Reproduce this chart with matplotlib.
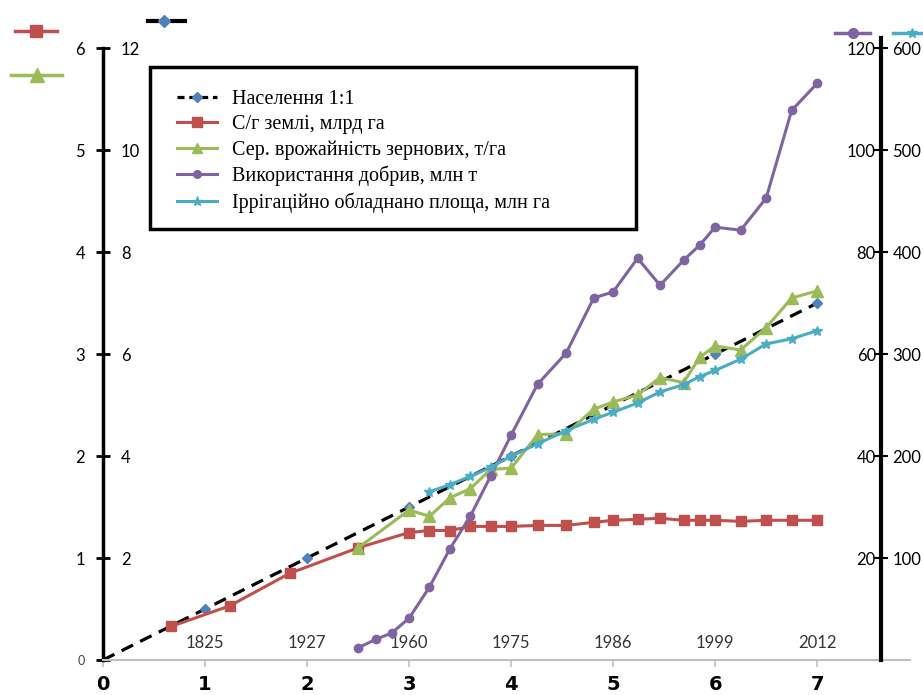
import matplotlib
matplotlib.use("Agg")
import matplotlib.pyplot as plt
from matplotlib.lines import Line2D
from matplotlib.patches import Rectangle

# --- data ---
# x axis = world population, billions (1:1 scale)
pop_x = [0, 1, 2, 3, 4, 5, 6, 7]
pop_y = [0, 1, 2, 3, 4, 5, 6, 7]
year_pos = [1, 2, 3, 4, 5, 6, 7]
year_lbl = ["1825", "1927", "1960", "1975", "1986", "1999", "2012"]

land_x = [0.67, 1.24, 1.83, 2.5, 3.0, 3.2, 3.4, 3.6, 3.8, 4.0, 4.26, 4.54,
          4.81, 5.0, 5.24, 5.46, 5.69, 5.85, 6.0, 6.25, 6.5, 6.75, 7.0]
land_y = [0.33, 0.53, 0.85, 1.10, 1.25, 1.27, 1.27, 1.31, 1.31, 1.31, 1.32, 1.32,
          1.35, 1.37, 1.38, 1.39, 1.37, 1.37, 1.37, 1.36, 1.37, 1.37, 1.37]

yield_x = [2.5, 3.0, 3.2, 3.4, 3.6, 3.8, 4.0, 4.26, 4.54, 4.81, 5.0, 5.24,
           5.46, 5.69, 5.85, 6.0, 6.25, 6.5, 6.75, 7.0]
yield_y = [1.10, 1.47, 1.41, 1.59, 1.68, 1.87, 1.88, 2.21, 2.22, 2.46, 2.53, 2.60,
           2.77, 2.72, 2.97, 3.08, 3.04, 3.26, 3.55, 3.62]

fert_x = [2.5, 2.68, 2.83, 3.0, 3.2, 3.4, 3.6, 3.8, 4.0, 4.26, 4.54, 4.81,
          5.0, 5.24, 5.46, 5.69, 5.85, 6.0, 6.25, 6.5, 6.75, 7.0]
fert_y = [2.4, 4.1, 5.3, 8.2, 14.3, 21.8, 28.2, 36.1, 44.1, 54.1, 60.2, 71.0,
          72.2, 78.8, 73.5, 78.4, 81.4, 84.9, 84.3, 90.6, 107.8, 113.1]

irr_x = [3.2, 3.4, 3.6, 3.8, 4.0, 4.26, 4.54, 4.81, 5.0, 5.24, 5.46, 5.69,
         5.85, 6.0, 6.25, 6.5, 6.75, 7.0]
irr_y = [165, 172, 180, 189, 200, 212, 225, 236, 243, 252, 263, 270,
         278, 284, 295, 310, 315, 323]

labels = ["Населення 1:1", "С/г землі, млрд га", "Сер. врожайність зернових, т/га",
          "Використання добрив, млн т", "Іррігаційно обладнано площа, млн га"]

c_pop, c_dia = "black", "#4F81BD"
c_land, c_yield, c_fert, c_irr = "#C0504D", "#9BBB59", "#8064A2", "#4BACC6"
tick_font = "Lato"

W, H = 923, 695
fig = plt.figure(figsize=(W / 100, H / 100), dpi=100)
left_px, right_px, zero_px, top_px = 103, 910, 660, 38
ax = fig.add_axes([left_px / W, (H - zero_px) / H, (right_px - left_px) / W, (zero_px - top_px) / H])
ax.set_xlim(0, 7.91)
ax.set_ylim(0, 6.1)

ax_pop = ax.twinx()
ax_pop.set_ylim(0, 12.2)
ax_pop.set_zorder(ax.get_zorder() - 1)
ax_fert = ax.twinx()
ax_fert.set_ylim(0, 122)
ax_irr = ax.twinx()
ax_irr.set_ylim(0, 610)

for a in (ax, ax_pop, ax_fert, ax_irr):
    for s in a.spines.values():
        s.set_visible(False)
    a.patch.set_alpha(0)

# series
ax_pop.plot(pop_x, pop_y, color=c_pop, lw=2.3, ls=(0, (4, 2.5)), marker="D", ms=5.5,
            mfc=c_dia, mec=c_dia, markevery=slice(1, None), zorder=2)
ax.plot(land_x, land_y, color=c_land, lw=2.2, marker="s", ms=7.5, zorder=3)
ax.plot(yield_x, yield_y, color=c_yield, lw=2.2, marker="^", ms=8.5, zorder=4)
ax_fert.plot(fert_x, fert_y, color=c_fert, lw=2.2, marker="o", ms=6, zorder=3)
ax_irr.plot(irr_x, irr_y, color=c_irr, lw=2.2, marker="*", ms=7, zorder=3)

# bottom axis (grey), bold labels
ax.spines["bottom"].set_visible(True)
ax.spines["bottom"].set_color("#BFBFBF")
ax.spines["bottom"].set_linewidth(1.5)
ax.set_xticks(range(0, 8))
ax.tick_params(axis="x", direction="out", length=5, width=1.2, color="#BFBFBF", pad=6)
for t in ax.get_xticklabels():
    t.set_fontweight("bold")
    t.set_fontsize(14)

# left axis: outer labels 0..6
ax.spines["left"].set_visible(True)
ax.spines["left"].set_linewidth(2.5)
ax.spines["left"].set_bounds(0, 6)
ax.set_yticks(range(0, 7))
ax.tick_params(axis="y", direction="inout", length=10, width=2, labelsize=12, pad=8)
for t in ax.get_yticklabels():
    t.set_fontfamily(tick_font)
ylabs = ax.get_yticklabels()
ylabs[0].set_fontsize(9)
ylabs[0].set_color("#404040")

# left axis: inner labels 2..12
ax_pop.yaxis.tick_left()
ax_pop.set_yticks(range(2, 13, 2))
ax_pop.tick_params(axis="y", length=0, labelsize=12, pad=-13)
for t in ax_pop.get_yticklabels():
    t.set_horizontalalignment("left")
    t.set_fontfamily(tick_font)

# right axis line with two scales
ax_fert.yaxis.tick_left()
ax_fert.spines["left"].set_position(("data", 7.63))
ax_fert.set_yticks(range(20, 121, 20))
ax_fert.tick_params(axis="y", length=0, labelsize=12, pad=4)
ax_irr.spines["right"].set_visible(True)
ax_irr.spines["right"].set_position(("data", 7.63))
ax_irr.spines["right"].set_linewidth(3)
ax_irr.set_yticks(range(100, 601, 100))
ax_irr.tick_params(axis="y", direction="inout", length=10, width=1.5, labelsize=12, pad=3)
for a in (ax_fert, ax_irr):
    for t in a.get_yticklabels():
        t.set_fontfamily(tick_font)

# year labels inside plot
for xp, yl in zip(year_pos, year_lbl):
    ax.text(xp, 0.17, yl, ha="center", va="center", fontsize=12, color="#333333",
            family=tick_font)

# legend box
fig.add_artist(Rectangle((150 / W, 1 - 229 / H), 486 / W, 162 / H, transform=fig.transFigure,
                         facecolor="white", edgecolor="black", lw=2.5, zorder=4))
handles = [
    Line2D([], [], color=c_pop, lw=2.3, ls=(0, (2.2, 1.5)), marker="D", ms=5.5, mfc=c_dia, mec=c_dia),
    Line2D([], [], color=c_land, lw=2.2, marker="s", ms=6.5),
    Line2D([], [], color=c_yield, lw=2.2, marker="^", ms=6.5),
    Line2D([], [], color=c_fert, lw=2.2, marker="o", ms=5.5),
    Line2D([], [], color=c_irr, lw=2.2, marker="*", ms=6.5),
]
leg = fig.legend(handles, labels, loc="upper left", bbox_to_anchor=(167 / W, 1 - 80 / H),
                 frameon=False, prop={"family": "Liberation Serif", "size": 14.5},
                 handlelength=2.0, handletextpad=0.75, labelspacing=0.3, borderpad=0)
leg.set_zorder(5)

# small series swatches around the axes
def swatch(x0, x1, y, color, marker, ms):
    fig.add_artist(Line2D([x0 / W, x1 / W], [1 - y / H, 1 - y / H], transform=fig.transFigure,
                          color=color, lw=2.5))
    xm = (x0 + x1) / 2
    fig.add_artist(Line2D([xm / W], [1 - y / H], transform=fig.transFigure, marker=marker, ms=ms,
                          color=color, ls="none"))

swatch(15, 57, 31, c_land, "s", 8)
swatch(11, 62, 75, c_yield, "^", 10)
fig.add_artist(Line2D([148 / W, 157 / W], [1 - 21 / H] * 2, transform=fig.transFigure, color="black", lw=3))
fig.add_artist(Line2D([172 / W, 185 / W], [1 - 21 / H] * 2, transform=fig.transFigure, color="black", lw=3))
fig.add_artist(Line2D([164 / W], [1 - 21 / H], transform=fig.transFigure, marker="D", ms=6,
                      color=c_dia, ls="none"))
swatch(835, 870, 33, c_fert, "o", 7)
swatch(893, 930, 33, c_irr, "*", 7)

fig.savefig("out.png", dpi=100)
